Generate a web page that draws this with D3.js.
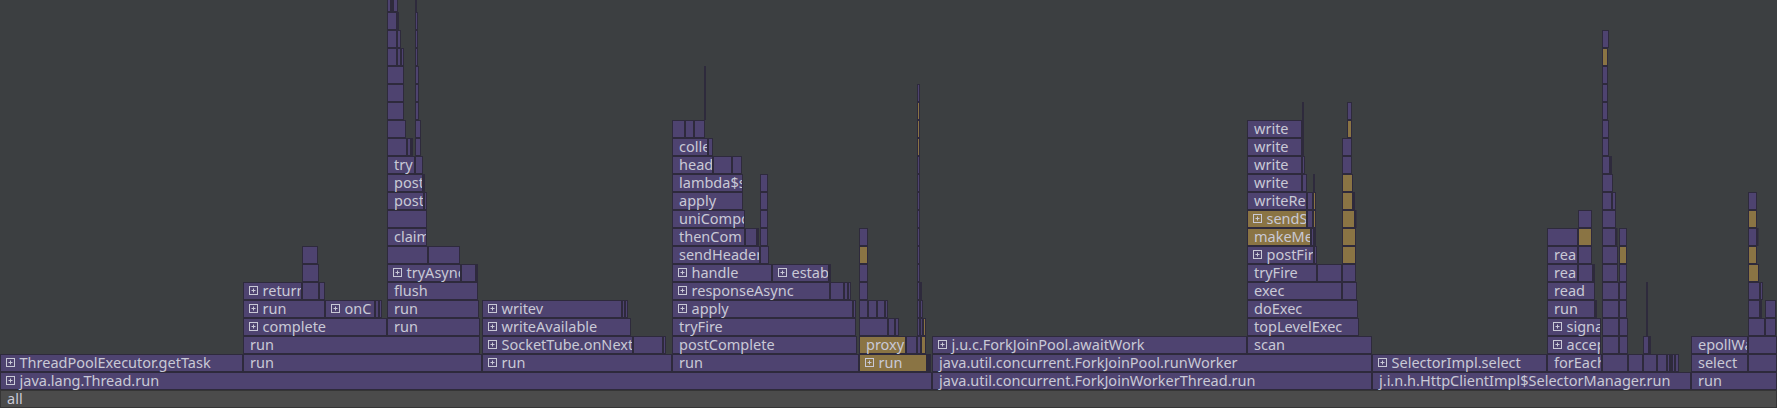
<!DOCTYPE html>
<html><head><meta charset="utf-8">
<script src="https://cdn.jsdelivr.net/npm/d3@7"></script>
<style>html,body{margin:0;padding:0;background:#3c3f41;overflow:hidden}svg{display:block}</style>
</head><body><svg id="chart"></svg><script>
const totalSamples = 1777;
// each frame: [startSample, endSample, name, flags]  flags: F = folded (⊞), G = hot/gold, R = root
const depth0 = [[0,1777,"all","R"]];
const depth1 = [[0,932,"java.lang.Thread.run","F"],[932,1372,"java.util.concurrent.ForkJoinWorkerThread.run",""],[1372,1691,"j.i.n.h.HttpClientImpl$SelectorManager.run",""],[1691,1777,"run",""]];
const depth2 = [[0,243,"ThreadPoolExecutor.getTask","F"],[243,482,"run",""],[482,672,"run","F"],[672,859,"run",""],[859,927,"run","GF"],[927,929,"",""],[929,931,"",""],[932,1372,"java.util.concurrent.ForkJoinPool.runWorker",""],[1372,1547,"SelectorImpl.select","F"],[1547,1602,"forEach",""],[1602,1628,"",""],[1628,1643,"",""],[1643,1657,"",""],[1657,1667,"",""],[1667,1670,"",""],[1670,1672,"",""],[1672,1675,"",""],[1675,1679,"",""],[1691,1748,"select",""],[1748,1777,"",""]];
const depth3 = [[243,480,"run",""],[482,633,"SocketTube.onNext","F"],[633,663,"",""],[663,666,"",""],[672,857,"postComplete",""],[859,906,"proxy","G"],[906,917,"",""],[917,921,"",""],[921,926,"","G"],[932,1247,"j.u.c.ForkJoinPool.awaitWork","F"],[1247,1372,"scan",""],[1547,1601,"accept","F"],[1602,1619,"",""],[1619,1628,"",""],[1643,1649,"",""],[1649,1651,"",""],[1691,1748,"epollWait",""],[1748,1777,"",""]];
const depth4 = [[243,387,"complete","F"],[387,480,"run",""],[482,631,"writeAvailable","F"],[672,856,"tryFire",""],[859,888,"",""],[888,895,"",""],[895,899,"",""],[917,920,"",""],[920,923,"",""],[923,926,"","G"],[1247,1359,"topLevelExec",""],[1547,1601,"signalEvent","F"],[1602,1619,"",""],[1619,1628,"",""],[1646,1648,"",""],[1748,1765,"",""],[1765,1776,"",""]];
const depth5 = [[243,325,"run","F"],[325,375,"onComplete","F"],[375,379,"",""],[379,382,"",""],[387,479,"run",""],[482,622,"writev","F"],[622,625,"",""],[625,628,"",""],[672,853,"apply","F"],[853,856,"",""],[859,868,"",""],[868,877,"",""],[877,885,"",""],[885,888,"",""],[917,920,"",""],[920,923,"",""],[1247,1358,"doExec",""],[1547,1595,"run",""],[1595,1597,"",""],[1602,1619,"",""],[1619,1627,"",""],[1646,1648,"",""],[1748,1760,"",""],[1760,1762,"",""],[1765,1776,"",""]];
const depth6 = [[243,302,"returnValue","F"],[302,319,"",""],[319,325,"",""],[387,478,"flush",""],[672,830,"responseAsync","F"],[830,844,"",""],[844,848,"",""],[848,851,"",""],[859,868,"",""],[917,920,"",""],[920,922,"",""],[1247,1342,"exec",""],[1342,1357,"",""],[1547,1595,"read",""],[1602,1619,"",""],[1619,1627,"",""],[1646,1648,"",""],[1748,1760,"",""],[1760,1763,"",""]];
const depth7 = [[302,319,"",""],[387,461,"tryAsyncWrite","F"],[461,476,"",""],[476,478,"",""],[672,772,"handle","F"],[772,829,"establishExchange","F"],[829,831,"",""],[859,868,"",""],[917,920,"",""],[1247,1317,"tryFire",""],[1317,1342,"",""],[1342,1356,"",""],[1547,1578,"read",""],[1578,1593,"",""],[1593,1595,"",""],[1602,1618,"",""],[1619,1627,"",""],[1748,1759,"","G"]];
const depth8 = [[302,318,"",""],[387,428,"",""],[428,460,"",""],[672,760,"sendHeadersAsync",""],[760,769,"",""],[859,868,"","G"],[917,920,"",""],[1247,1314,"postFire","F"],[1314,1317,"",""],[1342,1356,"","G"],[1547,1578,"read",""],[1578,1592,"",""],[1602,1618,"",""],[1619,1627,"","G"],[1748,1757,"","G"]];
const depth9 = [[387,427,"claim",""],[672,745,"thenCompose",""],[745,757,"",""],[757,759,"",""],[760,768,"",""],[859,868,"",""],[917,920,"",""],[1247,1311,"makeMessage","G"],[1311,1314,"",""],[1314,1316,"","G"],[1342,1356,"","G"],[1547,1578,"",""],[1578,1592,"","G"],[1602,1616,"",""],[1616,1617,"",""],[1619,1627,"",""],[1748,1757,"",""],[1757,1758,"",""]];
const depth10 = [[387,427,"",""],[672,745,"uniCompose",""],[760,768,"",""],[917,920,"",""],[1247,1307,"sendSegment","GF"],[1307,1313,"",""],[1313,1316,"","G"],[1342,1355,"","G"],[1355,1356,"",""],[1578,1592,"",""],[1602,1616,"",""],[1748,1757,"","G"]];
const depth11 = [[387,424,"postComplete",""],[424,427,"",""],[672,743,"apply",""],[760,768,"",""],[917,920,"",""],[1247,1307,"writeRecord",""],[1307,1313,"",""],[1313,1316,"","G"],[1342,1353,"","G"],[1353,1355,"",""],[1602,1612,"",""],[1612,1616,"",""],[1748,1757,"",""]];
const depth12 = [[387,423,"postFire",""],[423,425,"",""],[672,743,"lambda$sendHeadersAsync$0",""],[760,768,"",""],[917,920,"",""],[1247,1302,"write",""],[1302,1307,"",""],[1313,1315,"",""],[1342,1353,"","G"],[1602,1613,"",""]];
const depth13 = [[387,415,"tryFire",""],[415,423,"",""],[672,713,"headers",""],[713,732,"",""],[732,742,"",""],[917,920,"",""],[1247,1302,"write",""],[1302,1305,"",""],[1342,1352,"",""],[1602,1610,"",""],[1610,1612,"",""]];
const depth14 = [[387,407,"",""],[407,411,"",""],[411,413,"",""],[415,421,"",""],[672,708,"collect",""],[708,713,"",""],[917,920,"","G"],[1247,1302,"write",""],[1302,1304,"",""],[1342,1352,"",""],[1602,1609,"",""]];
const depth15 = [[387,406,"",""],[415,421,"",""],[672,685,"",""],[685,694,"",""],[694,705,"",""],[917,920,"","G"],[1247,1302,"write",""],[1302,1304,"",""],[1347,1352,"","G"],[1602,1609,"",""]];
const depth16 = [[387,404,"",""],[415,419,"",""],[704,706,"",""],[917,920,"","G"],[1302,1304,"",""],[1347,1352,"",""],[1602,1608,"",""]];
const depth17 = [[387,404,"",""],[415,419,"",""],[704,706,"",""],[917,920,"",""],[1602,1608,"",""]];
const depth18 = [[387,404,"",""],[415,419,"",""],[704,706,"",""],[1602,1608,"",""]];
const depth19 = [[387,397,"",""],[397,401,"",""],[401,404,"",""],[415,418,"",""],[1602,1608,"","G"]];
const depth20 = [[387,397,"",""],[397,401,"",""],[415,418,"",""],[1602,1609,"",""]];
const depth21 = [[387,397,"",""],[397,399,"",""],[415,418,"",""]];
const depth22 = [[387,391,"",""],[391,393,"",""],[393,398,"",""],[415,417,"",""]];
const levels = [depth0,depth1,depth2,depth3,depth4,depth5,depth6,depth7,depth8,depth9,depth10,depth11,depth12,depth13,depth14,depth15,depth16,depth17,depth18,depth19,depth20,depth21,depth22];

const W = 1777, H = 408, rowH = 18;
const svg = d3.select("#chart").attr("width", W).attr("height", H);
svg.append("rect").attr("width", W).attr("height", H).attr("fill", "#3c3f41");
const x = d3.scaleLinear().domain([0, totalSamples]).range([0, W]);
const y = d3.scaleLinear().domain([0, 1]).range([H - rowH, H - 2 * rowH]); // depth -> row top

const frames = [];
levels.forEach((lv, d) => lv.forEach(f => frames.push({depth: d, s: f[0], e: f[1], name: f[2], flags: f[3]})));

const textColor = "#c9c9d6";
const defs = svg.append("defs");
const g = svg.append("g");
frames.forEach((f, i) => {
  const x0 = Math.round(x(f.s)), x1 = Math.round(x(f.e));
  const top = Math.round(y(f.depth));
  const w = x1 - x0;
  const root = f.flags.includes("R");
  const hot = f.flags.includes("G");
  const fill = root ? "#4b4b4b" : hot ? "#8a7444" : "#4e4370";
  const stroke = root ? "#353535" : "#2e2a3c";
  const fg = g.append("g");
  fg.append("rect").attr("x", x0 + 0.5).attr("y", top + 0.5)
    .attr("width", Math.max(0.5, w - 1)).attr("height", rowH - 1)
    .attr("fill", fill).attr("stroke", stroke).attr("stroke-width", 1);
  if (f.name) {
    const cid = "c" + i;
    defs.append("clipPath").attr("id", cid).append("rect")
      .attr("x", x0 + 1).attr("y", top).attr("width", Math.max(0, w - 2)).attr("height", rowH);
    const lg = fg.append("g").attr("clip-path", `url(#${cid})`);
    let tx = x0 + 7;
    if (f.flags.includes("F")) {
      lg.append("rect").attr("x", x0 + 6.5).attr("y", top + 4.5).attr("width", 8).attr("height", 8)
        .attr("fill", "none").attr("stroke", textColor).attr("stroke-width", 1);
      lg.append("path").attr("d", `M${x0+8.5},${top+8.5}H${x0+12.5}M${x0+10.5},${top+6.5}V${top+10.5}`)
        .attr("stroke", textColor).attr("stroke-width", 1);
      tx = x0 + 19.5;
    }
    const t = lg.append("text").attr("x", tx).attr("y", top + 13.5)
      .attr("fill", textColor).attr("font-family", "'Noto Sans', sans-serif").attr("font-size", 14.5)
      .text(f.name);
    // keep whole characters up to just past the frame edge; clip shows the partial glyph
    const avail = x1 + 5 - tx;
    let n = f.name.length;
    while (n > 0 && t.node().getComputedTextLength() > avail) {
      n--;
      t.text(f.name.slice(0, n));
    }
    if (n === 0) t.remove();
  }
});
</script></body></html>
